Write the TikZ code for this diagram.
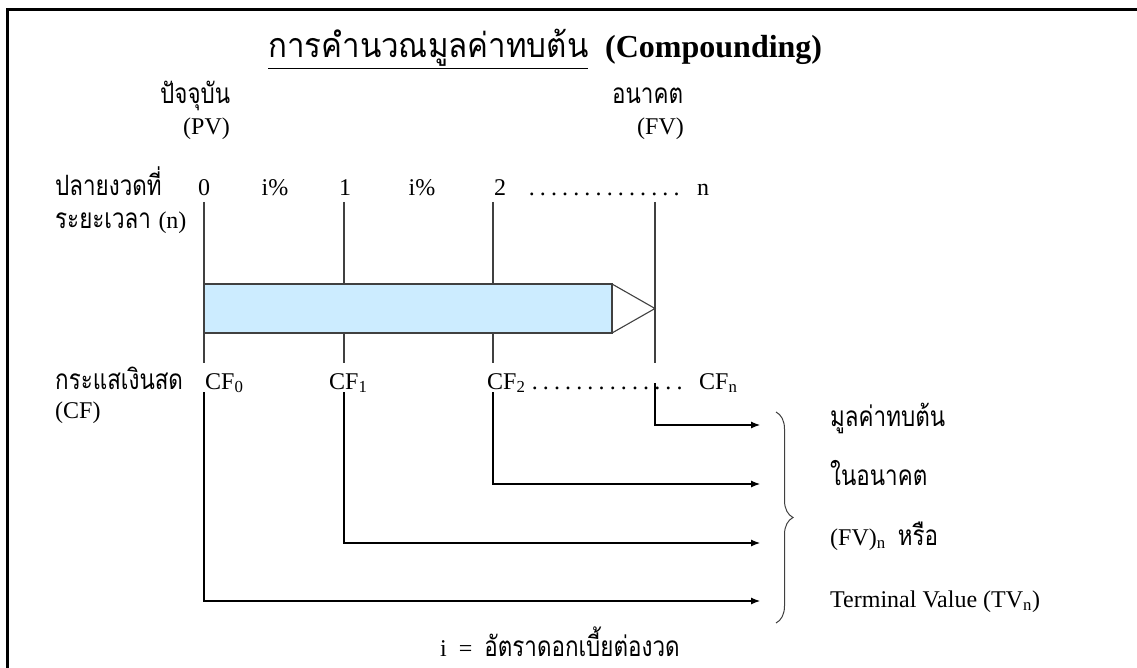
\documentclass[tikz,border=0pt]{standalone}
\usepackage{fontspec}
\setmainfont{Liberation Serif}
\newfontfamily\thai[Script=Thai,FakeStretch=0.8]{Loma}
\newfontfamily\thaiw[Script=Thai,FakeStretch=0.92]{Loma}
\usetikzlibrary{arrows.meta,decorations.pathreplacing}
\definecolor{barblue}{HTML}{CCECFF}
\definecolor{edge}{HTML}{404040}
\newcommand{\myleaders}[2]{\hbox to #1{\xleaders\hbox to #2{\hss.\hss}\hfill}}
\begin{document}
\begin{tikzpicture}[x=1pt,y=-1pt,
  lbl/.style={inner sep=0pt,font=\fontsize{24}{26}\selectfont},
  th/.style={inner sep=0pt,font=\fontsize{28}{30}\selectfont\thai},
  vline/.style={draw=edge,line width=1.1pt},
  arr/.style={draw=black,line width=1.1pt,-{Latex[length=9pt,width=7pt]}}]
\useasboundingbox (0,0) rectangle (1137,668);
% frame (top and left)
\draw[line width=3pt] (7,668) coordinate (fbl) -- (7,10) coordinate (ftl) -- (1137,10) coordinate (ftr);
% title
\node[inner sep=0pt,anchor=base west,font=\fontsize{34}{36}\selectfont\thaiw] (title) at (268,58) {\underline{การคำนวณมูลค่าทบต้น}};
\node[inner sep=0pt,anchor=base west,font=\fontsize{32}{34}\selectfont\bfseries] (comp) at (605,58) {(Compounding)};
% present / future
\node[th,anchor=base west] (pv) at (160,104) {ปัจจุบัน};
\node[lbl,anchor=base west] (pvl) at (183,135) {(PV)};
\node[th,anchor=base west] (fv) at (612,104) {อนาคต};
\node[lbl,anchor=base west] (fvl) at (637,135) {(FV)};
% period row
\node[th,anchor=base west] (per) at (55,196) {ปลายงวดที่};
\node[th,anchor=base west] (dur) at (55,229) {ระยะเวลา {\fontsize{24}{26}\selectfont\rmfamily(n)}};
\node[lbl,anchor=base] (p0) at (204,196) {0};
\node[lbl,anchor=base] (r1) at (275,196) {i\%};
\node[lbl,anchor=base] (p1) at (345,196) {1};
\node[lbl,anchor=base] (r2) at (422,196) {i\%};
\node[lbl,anchor=base] (p2) at (500,196) {2};
\node[lbl,anchor=base west] (pd) at (526,196) {\myleaders{156pt}{11pt}};
\node[lbl,anchor=base west] (pn) at (697,196) {n};
% vertical lines (upper part)
\coordinate (a0) at (204,202); \coordinate (b0) at (204,363);
\coordinate (a1) at (344,202); \coordinate (b1) at (344,363);
\coordinate (a2) at (493,202); \coordinate (b2) at (493,363);
\coordinate (a3) at (655,202); \coordinate (b3) at (655,363);
\draw[vline] (a0) -- (b0);
\draw[vline] (a1) -- (b1);
\draw[vline] (a2) -- (b2);
\draw[vline] (a3) -- (b3);
% bar with arrow tip
\coordinate (bl) at (204,284); \coordinate (br) at (612,333);
\coordinate (tip) at (655,308.5);
\filldraw[fill=barblue,draw=edge,line width=1.1pt] (bl) rectangle (br);
\draw[draw=edge,line width=1.1pt,line join=miter] (612,284) -- (tip) -- (612,333);
% cash flow row
\node[th,anchor=base west] (cf) at (55,389) {กระแสเงินสด};
\node[lbl,anchor=base west] (cf0) at (205,389) {CF\textsubscript{0}};
\node[lbl,anchor=base west] (cf1) at (329,389) {CF\textsubscript{1}};
\node[lbl,anchor=base west] (cf2) at (487,389) {CF\textsubscript{2}};
\node[lbl,anchor=base west] (cfd) at (529,389) {\myleaders{156pt}{11pt}};
\node[lbl,anchor=base west] (cfn) at (699,389) {CF\textsubscript{n}};
\node[lbl,anchor=base west] (cfl) at (55,418) {(CF)};
% lower lines and arrows
\coordinate (c0) at (204,392); \coordinate (d0) at (204,601); \coordinate (e0) at (760,601);
\coordinate (c1) at (344,392); \coordinate (d1) at (344,543); \coordinate (e1) at (760,543);
\coordinate (c2) at (493,392); \coordinate (d2) at (493,484); \coordinate (e2) at (760,484);
\coordinate (c3) at (655,383); \coordinate (d3) at (655,425); \coordinate (e3) at (760,425);
\draw[arr] (c0) -- (d0) -- (e0);
\draw[arr] (c1) -- (d1) -- (e1);
\draw[arr] (c2) -- (d2) -- (e2);
\draw[arr] (c3) -- (d3) -- (e3);
% brace
\coordinate (bt) at (776,412); \coordinate (bb) at (776,623);
\draw[edge,line width=1pt,decorate,decoration={brace,amplitude=17pt}] (bt) -- (bb);
% right texts
\node[th,anchor=base west] (t1) at (830,426) {มูลค่าทบต้น};
\node[lbl,anchor=base west] (t3) at (830,545) {(FV)\textsubscript{n}\ \ {\fontsize{28}{30}\selectfont\thai หรือ}};
\node[th,anchor=base west] (t2) at (830,485) {ในอนาคต};
\node[lbl,anchor=base west] (t4) at (830,607) {Terminal Value (TV\textsubscript{n})};
% footnote
\node[lbl,anchor=base west] (foot) at (440,656) {i\ \ =\ \ {\fontsize{28}{30}\selectfont\thai อัตราดอกเบี้ยต่องวด}};
\end{tikzpicture}
\end{document}
